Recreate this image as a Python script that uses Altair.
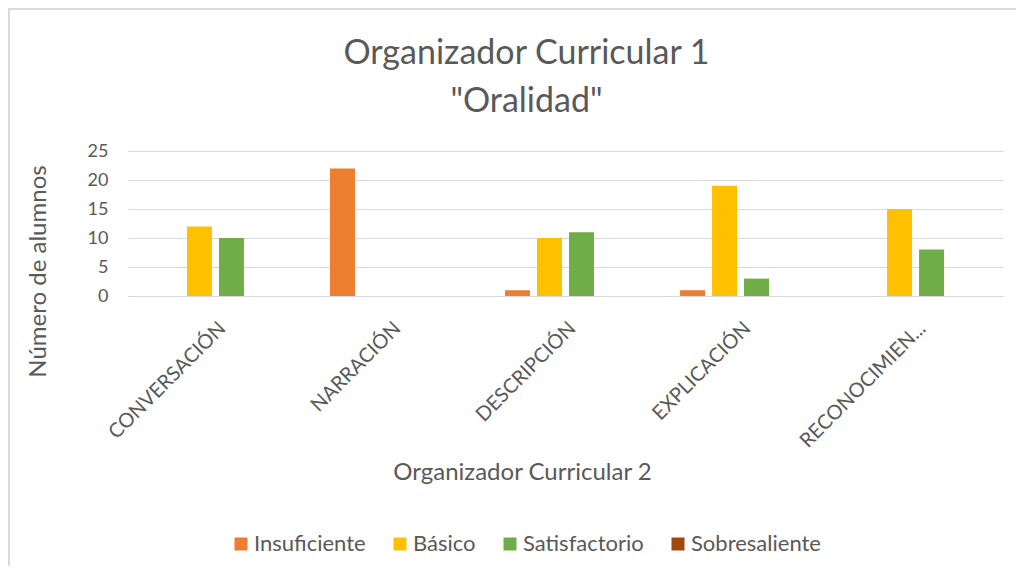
import altair as alt
import pandas as pd

categories = ["CONVERSACIÓN", "NARRACIÓN", "DESCRIPCIÓN", "EXPLICACIÓN", "RECONOCIMIEN..."]
series = ["Insuficiente", "Básico", "Satisfactorio", "Sobresaliente"]
insuficiente = [0, 22, 1, 1, 0]
basico = [12, 0, 10, 19, 15]
satisfactorio = [10, 0, 11, 3, 8]
sobresaliente = [0, 0, 0, 0, 0]
colors = ["#ED7D31", "#FFC000", "#70AD47", "#9E480E"]
y_ticks = [0, 5, 10, 15, 20, 25]

values = [insuficiente, basico, satisfactorio, sobresaliente]
rows = []
for s, vals in zip(series, values):
    for c, v in zip(categories, vals):
        rows.append({"cat": c, "serie": s, "val": v})
df = pd.DataFrame(rows)

FONT = "Lato"
GRAY = "#595959"

bars = alt.Chart(df).mark_bar().encode(
    x=alt.X("cat:N", sort=categories,
            scale=alt.Scale(paddingInner=0.2686, paddingOuter=0.134),
            axis=alt.Axis(title="Organizador Curricular 2", labelAngle=-45,
                          labelAlign="right", labelBaseline="top",
                          labelFontSize=20, labelColor=GRAY, labelPadding=22,
                          labelFont=FONT, ticks=False, domainColor="#d9d9d9",
                          labelLimit=300,
                          titleFont=FONT, titleFontSize=24, titleFontWeight="normal",
                          titleColor=GRAY, titleX=394, titleY=176,
                          titleBaseline="middle", titleAlign="center")),
    xOffset=alt.XOffset("serie:N", sort=series,
                        scale=alt.Scale(paddingInner=0.22, paddingOuter=0.11)),
    y=alt.Y("val:Q", scale=alt.Scale(domain=[0, 25]),
            axis=alt.Axis(title="Número de alumnos", values=y_ticks,
                          labelFontSize=18, labelColor=GRAY, labelFont=FONT,
                          labelPadding=20, ticks=False, domain=False,
                          gridColor="#d9d9d9", gridWidth=1,
                          titleFont=FONT, titleFontSize=24, titleFontWeight="normal",
                          titleColor=GRAY, titleX=-90, titleY=120,
                          titleBaseline="middle", titleAlign="center", titleAngle=270)),
    color=alt.Color("serie:N", sort=series,
                    scale=alt.Scale(domain=series, range=colors),
                    legend=alt.Legend(title=None, orient="none", legendX=102, legendY=382,
                                      direction="horizontal", symbolType="square",
                                      symbolSize=169, symbolStrokeWidth=0,
                                      labelFontSize=22, labelFont=FONT, labelColor=GRAY,
                                      labelOffset=2, columnPadding=23, padding=0)),
)

border = alt.Chart(df).mark_rect(fill=None, stroke="#d9d9d9", strokeWidth=1.5).encode(
    x=alt.value(-119.5), x2=alt.value(1000), y=alt.value(-142.5), y2=alt.value(800)
)

chart = alt.layer(border, bars).properties(
    width=875, height=145,
    padding={"left": 120, "top": 143, "right": 13, "bottom": 270},
    autosize=alt.AutoSizeParams(type="none"),
    title=alt.TitleParams(text=["Organizador Curricular 1", '"Oralidad"'],
                          font=FONT, fontSize=34, fontWeight="normal", color=GRAY,
                          lineHeight=48, dx=-39, dy=111, offset=0, anchor="middle"),
).configure_view(stroke=None)

chart.save("out.html", embed_options={"renderer": "svg", "actions": False})
